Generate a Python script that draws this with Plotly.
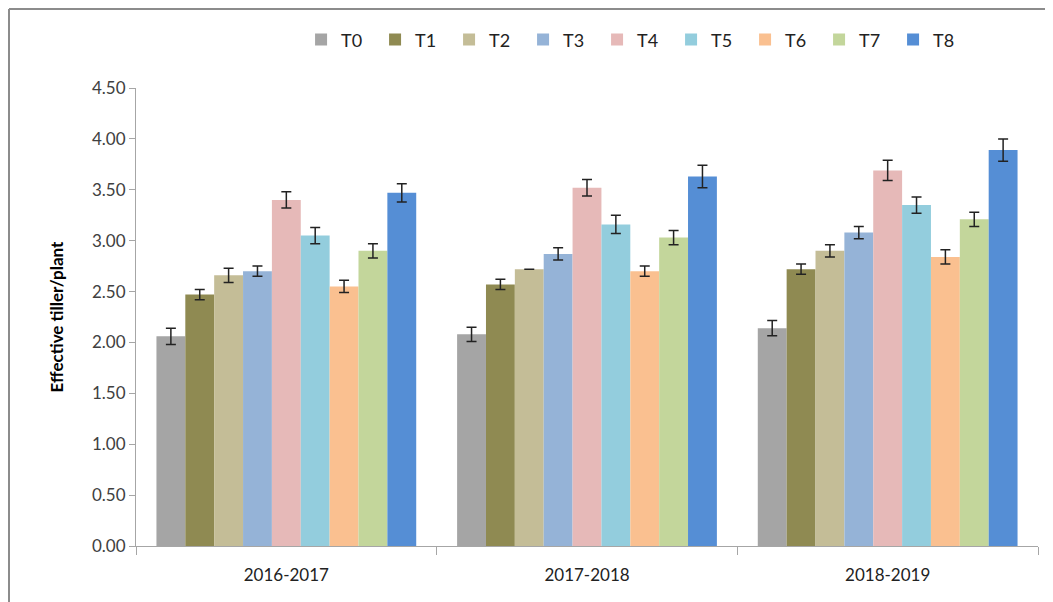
import plotly.graph_objects as go

years = ["2016-2017", "2017-2018", "2018-2019"]
treatments = ["T0", "T1", "T2", "T3", "T4", "T5", "T6", "T7", "T8"]
colors = ["#a5a5a5", "#8f8a52", "#c4bd97", "#95b3d7", "#e6b9b8",
          "#93cddd", "#fac090", "#c3d69b", "#558ed5"]

# values[treatment] = [2016-2017, 2017-2018, 2018-2019]
T0 = [2.06, 2.08, 2.14]
T1 = [2.47, 2.57, 2.72]
T2 = [2.66, 2.72, 2.90]
T3 = [2.70, 2.87, 3.08]
T4 = [3.40, 3.52, 3.69]
T5 = [3.05, 3.16, 3.35]
T6 = [2.55, 2.70, 2.84]
T7 = [2.90, 3.03, 3.21]
T8 = [3.47, 3.63, 3.89]

E0 = [0.08, 0.07, 0.075]
E1 = [0.05, 0.05, 0.05]
E2 = [0.07, 0.0, 0.06]
E3 = [0.05, 0.06, 0.06]
E4 = [0.08, 0.08, 0.10]
E5 = [0.08, 0.09, 0.08]
E6 = [0.06, 0.05, 0.07]
E7 = [0.07, 0.07, 0.07]
E8 = [0.09, 0.11, 0.11]

values = [T0, T1, T2, T3, T4, T5, T6, T7, T8]
errors = [E0, E1, E2, E3, E4, E5, E6, E7, E8]

FONT = "Lato, 'Open Sans', sans-serif"

fig = go.Figure()
for name, col, v, e in zip(treatments, colors, values, errors):
    fig.add_trace(go.Bar(
        name=name, x=years, y=v,
        marker=dict(color=col, line=dict(width=0)),
        error_y=dict(type="data", array=e, visible=True,
                     color="#222222", thickness=1.5, width=5),
    ))

fig.update_layout(
    width=1045, height=594,
    barmode="group", bargap=0.136, bargroupgap=0,
    plot_bgcolor="white", paper_bgcolor="white",
    margin=dict(l=128, r=15, t=80, b=56, autoexpand=False),
    font=dict(family=FONT, size=17, color="#404040"),
    legend=dict(orientation="h", x=0.183, y=1.105, xanchor="left", yanchor="middle",
                font=dict(size=18, color="#222222"),
                bgcolor="rgba(0,0,0,0)",
                entrywidth=29, entrywidthmode="pixels",
                itemwidth=30, traceorder="normal"),
    xaxis=dict(showline=True, linecolor="#a6a6a6", linewidth=1,
               ticks="outside", tickson="boundaries", ticklen=8, tickcolor="#a6a6a6",
               tickfont=dict(size=17, color="#222222"), showgrid=False,
               ticklabelstandoff=14, automargin=False),
    yaxis=dict(range=[0, 4.5], dtick=0.5, tickformat=".2f",
               showline=True, linecolor="#a6a6a6", linewidth=1,
               ticks="outside", ticklen=6, tickcolor="#a6a6a6",
               showgrid=False, zeroline=False, automargin=False,
               tickfont=dict(size=17, color="#404040"),
               title=dict(text="<b>Effective tiller/plant</b>",
                          font=dict(size=17, color="#000000"), standoff=24)),
    shapes=[
        dict(type="line", xref="paper", yref="paper",
             x0=-127 / 902, x1=-127 / 902, y0=-0.2, y1=537 / 458,
             line=dict(color="#8c8c8c", width=2)),
        dict(type="line", xref="paper", yref="paper",
             x0=-127 / 902, x1=1.1, y0=537 / 458, y1=537 / 458,
             line=dict(color="#8c8c8c", width=2)),
    ],
)

fig.write_html("out.html")
